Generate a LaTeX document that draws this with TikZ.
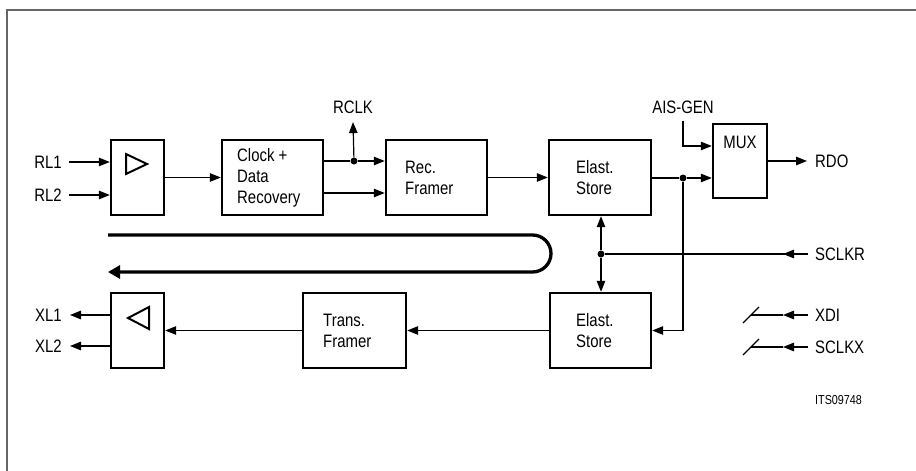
\documentclass[tikz,border=0pt]{standalone}
\usepackage{fontspec}
\setmainfont{Liberation Sans}[FakeStretch=0.83]
\usetikzlibrary{arrows.meta}
\tikzset{
  box/.style={draw, line width=2.4pt, minimum width=101pt, minimum height=75pt, inner sep=0pt},
  txt/.style={inner sep=0pt, align=left, font=\fontsize{18}{21}\selectfont},
  lbl/.style={inner sep=0pt, font=\fontsize{18}{21}\selectfont},
  small/.style={inner sep=0pt, font=\fontsize{13}{15}\selectfont},
  wire/.style={line width=1.2pt},
  arr/.style={line width=1.2pt, -{Triangle[length=11pt,width=8.5pt]}},
  dot/.style={circle, fill, inner sep=0pt, minimum size=7pt},
  bus/.style={line width=3.3pt},
  frame/.style={line width=1.6pt, draw=black!60},
  tri/.style={line width=2pt, line join=miter},
}
\begin{document}
\begin{tikzpicture}[x=1pt,y=-1pt]
\useasboundingbox (0,0) rectangle (916,471);
\draw[frame] (7,471) -- (7,10) -- (916,10);

% boxes
\node[box, minimum width=53pt] (amp1) at (137.5,177.5) {};
\node[box] (clock) at (272.5,177.5) {};
\node[box] (recf) at (436.5,177.5) {};
\node[box, minimum width=102pt] (es1) at (600,177.5) {};
\node[box, minimum width=54pt, minimum height=74pt] (mux) at (740,161) {};
\node[box, minimum width=101pt] (es2) at (600.5,330.5) {};
\node[box, minimum width=103pt] (trf) at (354.5,330.5) {};
\node[box, minimum width=53pt] (amp2) at (137.5,330.5) {};

% triangles
\draw[tri] (126,154) -- (147,164) -- (126,174) -- cycle;
\draw[tri] (149,307) -- (128,318) -- (149,329) -- cycle;

% box texts
\node[txt, anchor=west] (tclock) at (237,178) {Clock +\\Data\\Recovery};
\node[txt, anchor=west] (trecf) at (405,177.5) {Rec.\\Framer};
\node[txt, anchor=west] (tes1) at (576,177.5) {Elast.\\Store};
\node[txt, anchor=west] (tes2) at (576,331) {Elast.\\Store};
\node[txt, anchor=west] (ttrf) at (323,331) {Trans.\\Framer};
\node[lbl] (tmux) at (740,142) {MUX};

% labels
\node[lbl, anchor=east] (rl1) at (62,162) {RL1};
\node[lbl, anchor=east] (rl2) at (62,195) {RL2};
\node[lbl, anchor=east] (xl1) at (62,315) {XL1};
\node[lbl, anchor=east] (xl2) at (62,346) {XL2};
\node[lbl] (rclk) at (353,107) {RCLK};
\node[lbl] (ais) at (683,107) {AIS-GEN};
\node[lbl, anchor=west] (rdo) at (815,161) {RDO};
\node[lbl, anchor=west] (sclkr) at (815,254) {SCLKR};
\node[lbl, anchor=west] (xdi) at (815,315) {XDI};
\node[lbl, anchor=west] (sclkx) at (815,347) {SCLKX};
\node[small, anchor=west] (its) at (815,400) {ITS09748};

% receive path
\draw[arr] ([xshift=7pt]rl1.east) -- (rl1 -| amp1.west);
\draw[arr] ([xshift=7pt]rl2.east) -- (rl2 -| amp1.west);
\draw[arr] (amp1.east) -- (clock.west);
\node[dot] (d1) at (354,161) {};
\draw[wire] ([yshift=16.5pt]clock.east) -- (d1);
\draw[arr] (d1) -- ([yshift=16.5pt]recf.west);
\draw[arr] (d1) -- ([yshift=-8.5pt]rclk.south);
\draw[arr] ([yshift=-15.5pt]clock.east) -- ([yshift=-15.5pt]recf.west);
\draw[arr] (recf.east) -- (es1.west);
\node[dot] (d2) at (683,178) {};
\draw[wire] (es1.east |- d2) -- (d2);
\draw[arr] (d2) -- (d2 -| mux.west);
\draw[arr] ([yshift=-7pt]ais.south) |- ([yshift=15pt]mux.west);
\draw[arr] (mux.east) -- ([xshift=-8pt]rdo.west);

% transmit path
\draw[arr] (d2) |- (es2.east);
\draw[arr] (es2.west) -- (trf.east);
\draw[arr] (trf.west) -- (amp2.east);
\draw[arr] ([yshift=15.5pt]amp2.west) -- ([xshift=8pt]xl1.east);
\draw[arr] ([yshift=-15.5pt]amp2.west) -- ([xshift=8pt]xl2.east);

% clock distribution
\node[dot] (d3) at (601,254) {};
\draw[arr] (d3) -- (d3 |- es1.south);
\draw[arr] (d3) -- (d3 |- es2.north);
\draw[wire] ([xshift=-7pt]sclkr.west) -- (d3);
\draw[arr] ([xshift=-7pt]sclkr.west) -- ([xshift=-32pt]sclkr.west);

% XDI / SCLKX
\draw[arr] ([xshift=-7pt]xdi.west) -- ([xshift=-32pt]xdi.west);
\draw[wire] ([xshift=-32pt]xdi.west) -- ([xshift=-64pt]xdi.west);
\draw[wire] ([xshift=-72pt,yshift=-8pt]xdi.west) -- ([xshift=-56pt,yshift=8pt]xdi.west);
\draw[arr] ([xshift=-7pt]sclkx.west) -- ([xshift=-32pt]sclkx.west);
\draw[wire] ([xshift=-32pt]sclkx.west) -- ([xshift=-64pt]sclkx.west);
\draw[wire] ([xshift=-72pt,yshift=-8pt]sclkx.west) -- ([xshift=-56pt,yshift=8pt]sclkx.west);

% bus
\coordinate (busA) at (108,235);
\coordinate (busB) at (532.5,235);
\coordinate (busC) at (108,272);
\draw[bus, -{Triangle[length=12pt,width=13pt]}] (busA) -- (busB) arc (-90:90:18.5) -- (busC);
\end{tikzpicture}
\end{document}
